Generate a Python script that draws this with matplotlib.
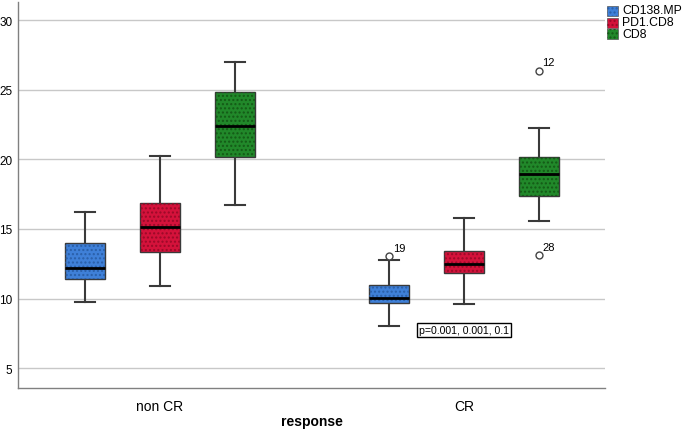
import matplotlib
matplotlib.use("Agg")
import matplotlib.pyplot as plt
from matplotlib.patches import Rectangle, PathPatch

plt.rcParams['font.family'] = ['Liberation Sans', 'DejaVu Sans']

groups = ["non CR", "CR"]
series = ["CD138.MP", "PD1.CD8", "CD8"]
colors = ["#3f80d8", "#d4123b", "#21882a"]
hatch_colors = ["#2a5fa8", "#9a0a28", "#145a16"]

# stats per (group, series): whislo, q1, med, q3, whishi
stats = {
    ("non CR", "CD138.MP"): (9.78, 11.38, 12.22, 13.97, 16.2),
    ("non CR", "PD1.CD8"): (10.93, 13.37, 15.12, 16.86, 20.21),
    ("non CR", "CD8"): (16.72, 20.2, 22.43, 24.85, 26.97),
    ("CR", "CD138.MP"): (8.0, 9.7, 10.02, 10.99, 12.78),
    ("CR", "PD1.CD8"): (9.59, 11.86, 12.51, 13.44, 15.79),
    ("CR", "CD8"): (15.6, 17.35, 18.92, 20.15, 22.27),
}
outliers = {
    ("CR", "CD138.MP"): [(13.03, "19")],
    ("CR", "CD8"): [(26.38, "12"), (13.1, "28")],
}
annotation = "p=0.001, 0.001, 0.1"
yticks = [5, 10, 15, 20, 25, 30]

fig = plt.figure(figsize=(6.85, 4.31), dpi=100)
ax = fig.add_axes([18/685, 1-389/431, (605-18)/685, (389-3)/431])

offsets = [-0.2467, 0.0, 0.2467]
width = 0.1316
bxp_stats = []
positions = []
cols = []
hcols = []
for gi, g in enumerate(groups):
    for si, s in enumerate(series):
        lo, q1, med, q3, hi = stats[(g, s)]
        bxp_stats.append(dict(whislo=lo, q1=q1, med=med, q3=q3, whishi=hi, fliers=[]))
        positions.append(gi + offsets[si])
        cols.append(colors[si])
        hcols.append(hatch_colors[si])

bp = ax.bxp(bxp_stats, positions=positions, widths=width, patch_artist=True,
            showfliers=False,
            boxprops=dict(linewidth=1.0, edgecolor="#3a3a3a"),
            medianprops=dict(color="black", linewidth=2.0),
            whiskerprops=dict(color="#3a3a3a", linewidth=1.5),
            capprops=dict(color="#3a3a3a", linewidth=1.5),
            capwidths=width * 0.5)
for box, c, hc in zip(bp["boxes"], cols, hcols):
    box.set_facecolor(c)
    box.set_zorder(3)
    hp = PathPatch(box.get_path(), facecolor="none", edgecolor=hc, hatch="....",
                   linewidth=0, zorder=3.5)
    ax.add_patch(hp)
for m in bp["medians"]:
    m.set_zorder(4)

for gi, g in enumerate(groups):
    for si, s in enumerate(series):
        for val, lab in outliers.get((g, s), []):
            x = gi + offsets[si]
            ax.plot(x, val, marker="o", markersize=5, markerfacecolor="white",
                    markeredgecolor="#444444", markeredgewidth=1.0, zorder=5)
            ax.text(x + 0.012, val + 0.25, lab, fontsize=8, ha="left", va="bottom")

ax.text(1.0 + offsets[1] - 0.148, 7.75, annotation, fontsize=7.6, ha="left", va="center",
        bbox=dict(boxstyle="square,pad=0.15", facecolor="white", edgecolor="black", linewidth=1.0))

ax.set_xlim(-0.467, 1.464)
ax.set_ylim(3.58, 31.3)
ax.set_yticks(yticks)
ax.set_xticks([0, 1])
ax.set_xticklabels(groups, fontsize=10)
ax.tick_params(axis="both", length=0)
ax.tick_params(axis="y", labelsize=8.5, pad=4)
ax.tick_params(axis="x", pad=8)
ax.yaxis.grid(True, color="#c8c8c8", linewidth=1.0)
ax.set_axisbelow(True)
for sp in ["top", "right"]:
    ax.spines[sp].set_visible(False)
for sp in ["left", "bottom"]:
    ax.spines[sp].set_color("#808080")
    ax.spines[sp].set_linewidth(1.0)
ax.set_xlabel("response", fontsize=10, fontweight="bold", labelpad=1)

# legend
ly = [11.5, 23.5, 35.0]
for i, s in enumerate(series):
    y = ly[i]
    r = Rectangle(((607)/685, 1-(y+5)/431), 11/685, 10/431, transform=fig.transFigure,
                  facecolor=colors[i], edgecolor="#555555", linewidth=0.5)
    fig.patches.append(r)
    r2 = Rectangle(((607)/685, 1-(y+5)/431), 11/685, 10/431, transform=fig.transFigure,
                   facecolor="none", edgecolor=hatch_colors[i], hatch="....", linewidth=0)
    fig.patches.append(r2)
    fig.text(622/685, 1-y/431, s, fontsize=8.8, ha="left", va="center")

fig.savefig("out.png", dpi=100)
